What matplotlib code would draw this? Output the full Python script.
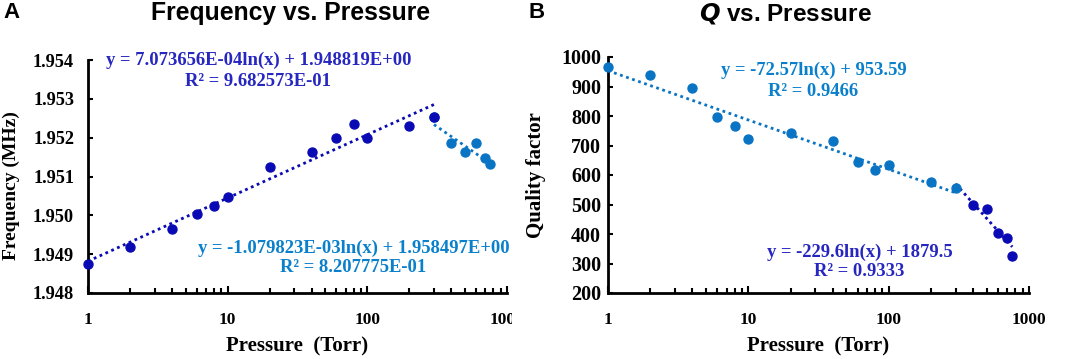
import numpy as np
import matplotlib
matplotlib.use('Agg')
import matplotlib.pyplot as plt
from matplotlib.transforms import Bbox, TransformedBbox, IdentityTransform

# Frequency vs. pressure (panel A)
freq_p_low = [1, 2, 4, 6, 8, 10, 20, 40, 60, 80, 100, 200, 300]
freq_low = [1.94875, 1.94919, 1.94965, 1.95003, 1.95025, 1.95048, 1.95124,
            1.95162, 1.95200, 1.95236, 1.95200, 1.95229, 1.95252]
freq_p_high = [300, 400, 500, 600, 700, 760]
freq_high = [1.95252, 1.95185, 1.95162, 1.95185, 1.95148, 1.95131]
freq_fit_low = (7.073656e-04, 1.948819)
freq_fit_high = (-1.079823e-03, 1.958497)

# Q vs. pressure (panel B)
q_p_low = [1, 2, 4, 6, 8, 10, 20, 40, 60, 80, 100, 200, 300]
q_low = [966, 939, 896, 796, 765, 722, 741, 716, 645, 616, 635, 575, 555]
q_p_high = [400, 500, 600, 700, 760]
q_high = [498, 485, 403, 388, 326]
q_fit_low = (-72.57, 953.59)
q_fit_high = (-229.6, 1879.5)

DARK = '#0a0ab4'
LIGHT = '#0a74c4'
DARK_TXT = '#2626c0'
LIGHT_TXT = '#0a80cc'
serif = 'Liberation Serif'
sans = 'Liberation Sans'

fig = plt.figure(figsize=(10.65, 3.59), dpi=100)
W, H = 1065, 359


def px_axes(x0, x1, y_top, y_bot):
    return fig.add_axes([x0 / W, (H - y_bot) / H, (x1 - x0) / W, (y_bot - y_top) / H])


def style(ax, ypad, ysize):
    ax.set_xscale('log')
    ax.set_xlim(1, 1000)
    for s in ['top', 'right']:
        ax.spines[s].set_visible(False)
    for s in ['left', 'bottom']:
        ax.spines[s].set_linewidth(2)
    ax.tick_params(axis='x', which='major', direction='in', length=5, width=1.5, pad=14)
    ax.tick_params(axis='x', which='minor', direction='in', length=3.5, width=1.5)
    ax.tick_params(axis='y', which='major', direction='in', length=3.5, width=1.5, pad=ypad)
    ax.set_xticks([1, 10, 100, 1000])
    ax.set_xticklabels(['1', '10', '100', '1000'])
    for lab in ax.get_xticklabels():
        lab.set_fontfamily(serif)
        lab.set_fontweight('bold')
        lab.set_fontsize(12.5)
    for lab in ax.get_yticklabels():
        lab.set_fontfamily(serif)
        lab.set_fontweight('bold')
        lab.set_fontsize(ysize)
    ax.set_xlabel('Pressure  (Torr)', fontfamily=serif, fontweight='bold', fontsize=15, labelpad=6)


def fit_line(ax, coef, x0, x1, color):
    xs = np.logspace(np.log10(x0), np.log10(x1), 60)
    ax.plot(xs, coef[0] * np.log(xs) + coef[1], color=color, lw=2,
            linestyle=(0, (1, 1.3)), zorder=2)


def eq(x, y, s, color):
    fig.text(x / W, (H - y) / H, s, ha='center', va='center', fontfamily=serif,
             fontweight='bold', fontsize=13.4, color=color)


# ---- panel A
axA = px_axes(88, 507, 60, 293)
axA.set_ylim(1.948, 1.954)
axA.set_yticks(np.arange(1.948, 1.9545, 0.001))
axA.set_yticklabels(['%.3f' % v for v in np.arange(1.948, 1.9545, 0.001)])
style(axA, 10, 13.2)
axA.scatter(freq_p_high, freq_high, s=42, color=LIGHT, zorder=3, clip_on=False)
axA.scatter(freq_p_low, freq_low, s=42, color=DARK, zorder=4, clip_on=False)
fit_line(axA, freq_fit_low, 1, 300, DARK)
fit_line(axA, freq_fit_high, 300, 760, LIGHT)
axA.set_ylabel('Frequency (MHz)', fontfamily=serif, fontweight='bold', fontsize=14)
axA.yaxis.set_label_coords(-0.162, 0.46)
eq(259, 60, 'y = 7.073656E-04ln(x) + 1.948819E+00', DARK_TXT)
eq(258, 82, 'R² = 9.682573E-01', DARK_TXT)
eq(354, 248, 'y = -1.079823E-03ln(x) + 1.958497E+00', LIGHT_TXT)
eq(353, 268, 'R² = 8.207775E-01', LIGHT_TXT)
# last x label is cut off in the original
last = axA.xaxis.get_major_ticks()[-1].label1
last.set_clip_on(True)
last.set_clip_box(TransformedBbox(Bbox([[0, 0], [512, H]]), IdentityTransform()))

# ---- panel B
axB = px_axes(608, 1029, 57, 293)
axB.set_ylim(200, 1000)
axB.set_yticks(range(200, 1001, 100))
style(axB, 5, 14.5)
axB.scatter(q_p_high, q_high, s=42, color=DARK, zorder=3, clip_on=False)
axB.scatter(q_p_low, q_low, s=42, color=LIGHT, zorder=4, clip_on=False)
fit_line(axB, q_fit_low, 1, 300, LIGHT)
fit_line(axB, q_fit_high, 300, 760, DARK)
axB.set_ylabel('Quality factor', fontfamily=serif, fontweight='bold', fontsize=15)
axB.yaxis.set_label_coords(-0.147, 0.5)
eq(814, 70, 'y = -72.57ln(x) + 953.59', LIGHT_TXT)
eq(813, 91, 'R² = 0.9466', LIGHT_TXT)
eq(860, 252, 'y = -229.6ln(x) + 1879.5', DARK_TXT)
eq(859, 272, 'R² = 0.9333', DARK_TXT)

# titles and panel letters
fig.text(291 / W, (H - 13) / H, 'Frequency vs. Pressure', ha='center', va='center',
         fontfamily=sans, fontweight='bold', fontsize=17.8)
fig.text(785 / W, (H - 13) / H, r'$\bfit{Q}$ vs. Pressure', ha='center', va='center',
         fontfamily=sans, fontweight='bold', fontsize=17.5)
fig.text(3 / W, (H - 12) / H, 'A', ha='left', va='center', fontfamily=sans, fontweight='bold', fontsize=16)
fig.text(529 / W, (H - 12) / H, 'B', ha='left', va='center', fontfamily=sans, fontweight='bold', fontsize=16)

fig.savefig('out.png', dpi=100)
